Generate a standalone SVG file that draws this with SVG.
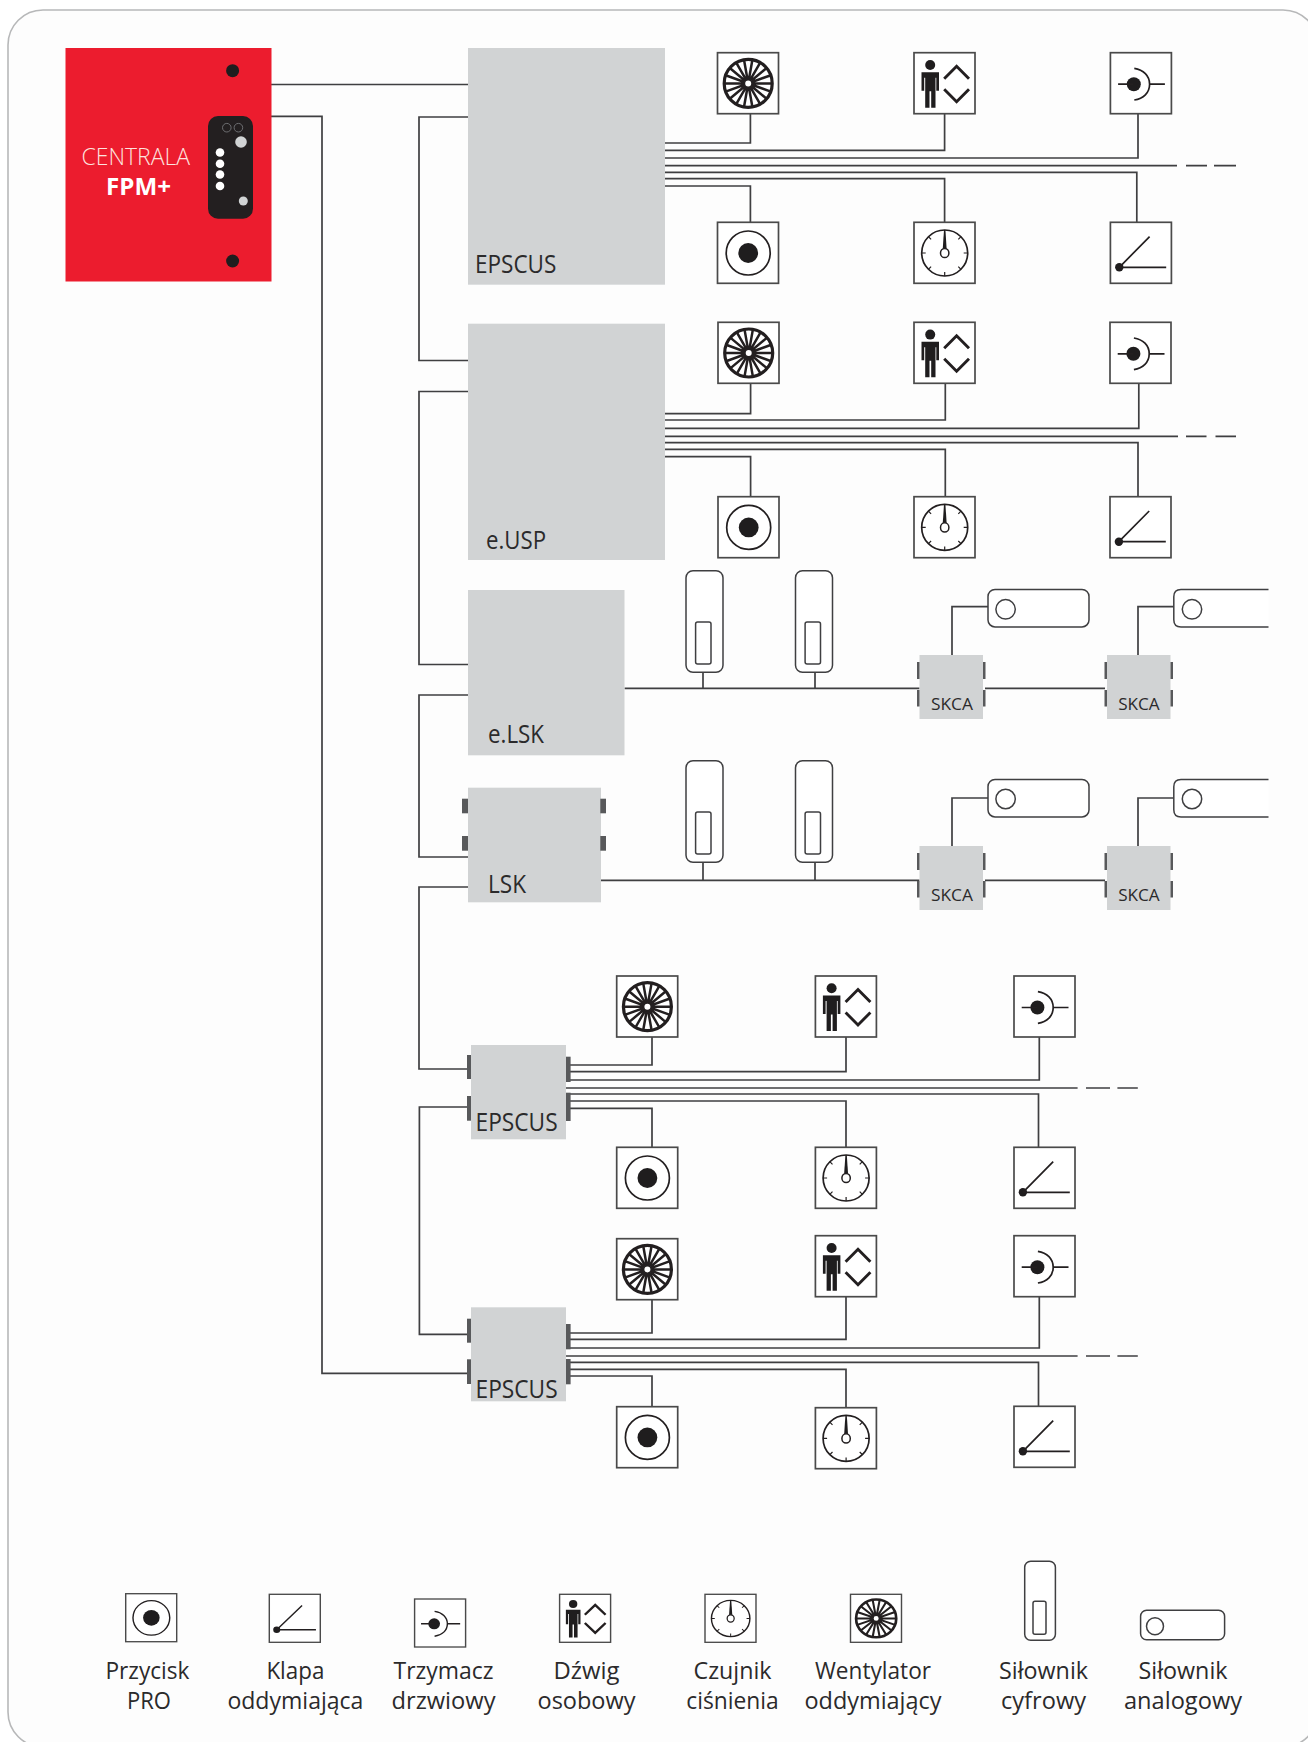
<svg xmlns="http://www.w3.org/2000/svg" xmlns:xlink="http://www.w3.org/1999/xlink" width="1308" height="1742" viewBox="0 0 1308 1742">
<style>
text{font-family:"Open Sans","Noto Sans","Liberation Sans",sans-serif;fill:#2b2a2b}
.lbl{font-size:25px}
.leg{font-size:23.5px;text-anchor:middle}
.sk{font-size:16.5px}
.grey{fill:#d1d3d4}
.port{fill:#58595b}
.box{fill:#fff;stroke:#4a4a4a;stroke-width:1.7}
.ln{fill:none;stroke:#3f3f41;stroke-width:1.7}
.sym{fill:none;stroke:#231f20;stroke-width:1.7}
.blk{fill:#1f1d1e}
.act{fill:#fff;stroke:#3f3f41;stroke-width:1.5}
</style>
<defs>
<g id="fan"><rect class="box" x="0" y="0" width="61" height="61"/>
<g transform="translate(30.7 30.7)"><circle r="24" fill="none" stroke="#231f20" stroke-width="3.2"/>
<path fill="none" stroke="#231f20" stroke-width="2.5" d="M-24 0H24M-22.6 -8.2L22.6 8.2M-18.4 -15.4L18.4 15.4M-12 -20.8L12 20.8M-4.2 -23.6L4.2 23.6M4.2 -23.6L-4.2 23.6M12 -20.8L-12 20.8M18.4 -15.4L-18.4 15.4M22.6 -8.2L-22.6 8.2"/>
<circle r="3.8" fill="#fff" stroke="#231f20" stroke-width="1.6"/></g></g>
<g id="lift"><rect class="box" x="0" y="0" width="61" height="61"/>
<circle class="blk" cx="16.200" cy="12.300" r="5"/>
<path class="blk" d="M7.500 19.500H25V38H22.300V25H21.500V55H17.200V38.500H15.500V55H11.200V25H10.200V38H7.500Z"/>
<path fill="none" stroke="#231f20" stroke-width="2.900" d="M30.200 26L42.600 13.500L55 26M30.200 36.500L42.600 49L55 36.500"/></g>
<g id="door"><rect class="box" x="0" y="0" width="61" height="61"/>
<circle class="blk" cx="23.400" cy="31.500" r="7"/>
<path class="sym" d="M7.700 31.500H23M39.200 31.500H54.500M23.900 15.700C33 17 39.200 23 39.200 31.500C39.200 40 33 46 23.900 47.300"/></g>
<g id="btn"><rect class="box" x="0" y="0" width="61" height="61"/>
<circle class="sym" cx="30.700" cy="30.700" r="22"/><circle class="blk" cx="30.700" cy="30.700" r="9.900"/></g>
<g id="gauge"><rect class="box" x="0" y="0" width="61" height="61"/>
<g transform="translate(30.700 30.700)"><circle class="sym" r="23"/>
<path fill="none" stroke="#231f20" stroke-width="1.200" d="M16.300 -16.300L13.600 -13.600M23 0H19M16.300 16.300L13.600 13.600M0 23V19M-16.300 16.300L-13.600 13.600M-23 0H-19M-16.300 -16.300L-13.600 -13.600"/>
<path class="blk" d="M-2 -3.500L-0.700 -23H0.700L2 -3.500Z"/><ellipse cx="0" cy="0" rx="4.200" ry="4.600" fill="#fff" stroke="#231f20" stroke-width="1.500"/></g></g>
<g id="flap"><rect class="box" x="0" y="0" width="61" height="61"/>
<circle class="blk" cx="8.900" cy="45" r="4.200"/>
<path class="sym" d="M8.900 45L39.200 14.300M8.900 45H55.800"/></g>
<g id="sdig"><rect class="act" x="0" y="0" width="37" height="101.600" rx="7"/><rect class="act" x="9.600" y="51.300" width="15.400" height="42" rx="2"/></g>
<g id="skca"><rect class="grey" x="0" y="0" width="63.500" height="64"/>
<rect class="port" x="-2.500" y="7" width="2.500" height="17"/><rect class="port" x="-2.500" y="35" width="2.500" height="16.500"/>
<rect class="port" x="63.500" y="7" width="2.500" height="17"/><rect class="port" x="63.500" y="35" width="2.500" height="16.500"/></g>
</defs>

<rect id="frame" x="8" y="10" width="1310" height="1737" rx="35" ry="35" fill="#fdfdfd" stroke="#b7b8b9" stroke-width="1.600"/>

<g id="connectors">
<path class="ln" d="M271 84.500H468M271 116.300H322V1373.300H467M468 117H419V360.500H468M468 391.500H419V664.500H468M468 695H419V857H468M468 887H419V1069H467M467 1107H419.400V1334.300H467"/>
<path class="ln" d="M665 143H750.400V113.300M665 150.300H944.600V113.300M665 158H1138V113.300M665 165.700H1177M1186 165.700H1207M1214 165.700H1236M665 172.300H1136.800V222.300M665 178.700H944.600V222.300M665 186H750.400V222.300"/>
<path class="ln" d="M665 413.700H750.600V382.300M665 420H945.300V382.300M665 428.300H1138.800V382.300M665 436.300H1178M1186 436.300H1206.500M1215.500 436.300H1236M665 442.700H1138V496.700M665 449.300H945.300V496.700M665 456.700H750.600V496.700"/>
<path class="ln" d="M624.500 688.300H919.500M985 688.300H1105M703 672V688M815 672V688M952 655V606.700H988M1138 655V606.700H1173.800"/>
<path class="ln" d="M601 880.300H919.500M985 880.300H1105M703 862V880M815 862V880M952 846V798H988M1138 846V798H1173.800"/>
<path class="ln" d="M570 1065H652V1037M570 1071.700H846V1037M570 1080H1039.300V1037M566 1088H1077.600M1086 1088H1110M1117.400 1088H1137.800M570 1094H1038.500V1147.300M570 1101H846V1147.300M570 1108.300H652V1147.300"/>
<path class="ln" d="M570 1333H652V1300M570 1339.300H846V1297M570 1348H1039.300V1297M566 1356H1077.600M1086 1356H1110M1117.400 1356H1137.800M570 1362.300H1038.500V1406.300M570 1369.300H846V1407.700M570 1376H652V1406.700"/>
</g>

<g id="centrala">
<rect x="65.500" y="48" width="206" height="233.500" fill="#ec1c2e"/>
<circle class="blk" cx="232.600" cy="70.700" r="6.500"/><circle class="blk" cx="232.600" cy="261" r="6.500"/>
<rect x="208" y="116" width="45" height="102.700" rx="10" fill="#231f20"/>
<circle cx="226.800" cy="127.700" r="4.300" fill="none" stroke="#6d6e71" stroke-width="1"/><circle cx="238.400" cy="127.700" r="4.300" fill="none" stroke="#6d6e71" stroke-width="1"/>
<circle cx="241" cy="142" r="5.800" fill="#d1d3d4"/><circle cx="243.300" cy="201" r="4.500" fill="#d1d3d4"/>
<circle cx="220" cy="152.500" r="4.300" fill="#fff"/><circle cx="220" cy="163.700" r="4.300" fill="#fff"/><circle cx="220" cy="174.500" r="4.300" fill="#fff"/><circle cx="220" cy="186" r="4.300" fill="#fff"/>
<text x="81.500" y="165" font-size="24" font-weight="300" textLength="108.500" lengthAdjust="spacingAndGlyphs" style="fill:#fde3df">CENTRALA</text>
<text x="106" y="195" font-size="24" font-weight="700" textLength="65" lengthAdjust="spacingAndGlyphs" style="fill:#fff">FPM+</text>
</g>

<g id="epscus-1"><rect class="grey" x="468" y="48" width="197" height="236.700"/><text class="lbl" x="475" y="273" textLength="81.300" lengthAdjust="spacingAndGlyphs">EPSCUS</text></g>
<g id="icons-1">
<use href="#fan" x="717.500" y="52.700"/><use href="#lift" x="914" y="52.700"/><use href="#door" x="1110.400" y="52.700"/>
<use href="#btn" x="717.500" y="222.300"/><use href="#gauge" x="914" y="222.300"/><use href="#flap" x="1110.400" y="222.300"/>
</g>

<g id="eusp"><rect class="grey" x="468" y="323.700" width="197" height="236.300"/><text class="lbl" x="486" y="548.500" textLength="60" lengthAdjust="spacingAndGlyphs">e.USP</text></g>
<g id="icons-2">
<use href="#fan" x="718" y="322.300"/><use href="#lift" x="914" y="322.300"/><use href="#door" x="1110" y="322.300"/>
<use href="#btn" x="718" y="496.700"/><use href="#gauge" x="914" y="496.700"/><use href="#flap" x="1110" y="496.700"/>
</g>

<g id="elsk"><rect class="grey" x="468" y="590" width="156.500" height="165.300"/><text class="lbl" x="488" y="743.300" textLength="56" lengthAdjust="spacingAndGlyphs">e.LSK</text></g>
<g id="row-3">
<use href="#sdig" x="686" y="570.700"/><use href="#sdig" x="795.500" y="570.700"/>
<g id="skca-1"><use href="#skca" x="919.500" y="655"/><text class="sk" x="931" y="710" textLength="42" lengthAdjust="spacingAndGlyphs">SKCA</text></g>
<g id="skca-2"><use href="#skca" x="1107" y="655"/><text class="sk" x="1118.200" y="710" textLength="41.500" lengthAdjust="spacingAndGlyphs">SKCA</text></g>
<rect class="act" x="988" y="589.500" width="101" height="37.400" rx="7"/><circle class="act" cx="1005.600" cy="609.300" r="9.700"/>
<path class="act" d="M1268.500 589.500H1181Q1173.800 589.500 1173.800 596.700V619.700Q1173.800 626.900 1181 626.900H1268.500"/><circle class="act" cx="1192" cy="609.300" r="9.700"/>
</g>

<g id="lsk"><rect class="grey" x="468" y="787.700" width="133" height="114.600"/>
<rect class="port" x="462" y="798.700" width="6" height="14.600"/><rect class="port" x="462" y="836" width="6" height="14.700"/>
<rect class="port" x="600.300" y="798.700" width="5.700" height="14.600"/><rect class="port" x="600.300" y="836" width="5.700" height="14.700"/>
<text class="lbl" x="488" y="893" textLength="38" lengthAdjust="spacingAndGlyphs">LSK</text></g>
<g id="row-4">
<use href="#sdig" x="686" y="760.700"/><use href="#sdig" x="795.500" y="760.700"/>
<g id="skca-3"><use href="#skca" x="919.500" y="846"/><text class="sk" x="931" y="901" textLength="42" lengthAdjust="spacingAndGlyphs">SKCA</text></g>
<g id="skca-4"><use href="#skca" x="1107" y="846"/><text class="sk" x="1118.200" y="901" textLength="41.500" lengthAdjust="spacingAndGlyphs">SKCA</text></g>
<rect class="act" x="988" y="779.500" width="101" height="37.400" rx="7"/><circle class="act" cx="1005.600" cy="799" r="9.700"/>
<path class="act" d="M1268.500 779.500H1181Q1173.800 779.500 1173.800 786.700V809.700Q1173.800 816.900 1181 816.900H1268.500"/><circle class="act" cx="1192" cy="799" r="9.700"/>
</g>

<g id="epscus-2"><rect class="grey" x="471" y="1045" width="95" height="94.300"/>
<rect class="port" x="467" y="1055" width="4" height="24"/><rect class="port" x="467" y="1096" width="4" height="24.700"/>
<rect class="port" x="566" y="1056.700" width="4.600" height="25.300"/><rect class="port" x="566" y="1092.700" width="4.600" height="28.300"/>
<text class="lbl" x="475.600" y="1131" textLength="82" lengthAdjust="spacingAndGlyphs">EPSCUS</text></g>
<g id="icons-3">
<use href="#fan" x="616.700" y="976"/><use href="#lift" x="815.400" y="976"/><use href="#door" x="1014" y="976"/>
<use href="#btn" x="616.700" y="1147.300"/><use href="#gauge" x="815.400" y="1147.300"/><use href="#flap" x="1014" y="1147.300"/>
</g>

<g id="epscus-3"><rect class="grey" x="471" y="1307.300" width="95" height="94"/>
<rect class="port" x="467" y="1318.700" width="4" height="24"/><rect class="port" x="467" y="1359.300" width="4" height="24.700"/>
<rect class="port" x="566" y="1324" width="4.600" height="25.300"/><rect class="port" x="566" y="1359" width="4.600" height="25.300"/>
<text class="lbl" x="475.600" y="1397.800" textLength="82" lengthAdjust="spacingAndGlyphs">EPSCUS</text></g>
<g id="icons-4">
<use href="#fan" x="616.700" y="1238.700"/><use href="#lift" x="815.400" y="1235.700"/><use href="#door" x="1014" y="1235.700"/>
<use href="#btn" x="616.700" y="1406.700"/><use href="#gauge" x="815.400" y="1407.700"/><use href="#flap" x="1014" y="1406.300"/>
</g>

<g id="legend">
<use href="#btn" transform="translate(125.700 1593.700) scale(.836 .787)"/>
<text class="leg" x="147.500" y="1679" textLength="84" lengthAdjust="spacingAndGlyphs">Przycisk</text><text class="leg" x="149" y="1708.500" textLength="44" lengthAdjust="spacingAndGlyphs">PRO</text>
<use href="#flap" transform="translate(269.300 1594.300) scale(.836 .787)"/>
<text class="leg" x="295.400" y="1679" textLength="58" lengthAdjust="spacingAndGlyphs">Klapa</text><text class="leg" x="295.400" y="1708.500" textLength="136" lengthAdjust="spacingAndGlyphs">oddymiająca</text>
<use href="#door" transform="translate(414.600 1599) scale(.836 .787)"/>
<text class="leg" x="443.500" y="1679" textLength="100" lengthAdjust="spacingAndGlyphs">Trzymacz</text><text class="leg" x="443.500" y="1708.500" textLength="104" lengthAdjust="spacingAndGlyphs">drzwiowy</text>
<use href="#lift" transform="translate(559.600 1594.300) scale(.836 .787)"/>
<text class="leg" x="586.500" y="1679" textLength="66" lengthAdjust="spacingAndGlyphs">Dźwig</text><text class="leg" x="586.500" y="1708.500" textLength="98" lengthAdjust="spacingAndGlyphs">osobowy</text>
<use href="#gauge" transform="translate(705 1594.300) scale(.836 .787)"/>
<text class="leg" x="732.500" y="1679" textLength="78" lengthAdjust="spacingAndGlyphs">Czujnik</text><text class="leg" x="732.500" y="1708.500" textLength="92.500" lengthAdjust="spacingAndGlyphs">ciśnienia</text>
<use href="#fan" transform="translate(850.500 1594.300) scale(.836 .787)"/>
<text class="leg" x="873" y="1679" textLength="116" lengthAdjust="spacingAndGlyphs">Wentylator</text><text class="leg" x="873" y="1708.500" textLength="137" lengthAdjust="spacingAndGlyphs">oddymiający</text>
<rect class="act" x="1024.700" y="1561.300" width="30.700" height="79" rx="6"/><rect class="act" x="1033" y="1601.300" width="13" height="33" rx="2"/>
<text class="leg" x="1043.500" y="1679" textLength="89" lengthAdjust="spacingAndGlyphs">Siłownik</text><text class="leg" x="1043.500" y="1708.500" textLength="85" lengthAdjust="spacingAndGlyphs">cyfrowy</text>
<rect class="act" x="1140.600" y="1610.300" width="84" height="29.400" rx="6"/><circle class="act" cx="1155" cy="1626.300" r="8.500"/>
<text class="leg" x="1183" y="1679" textLength="89" lengthAdjust="spacingAndGlyphs">Siłownik</text><text class="leg" x="1183" y="1708.500" textLength="118" lengthAdjust="spacingAndGlyphs">analogowy</text>
</g>
</svg>
